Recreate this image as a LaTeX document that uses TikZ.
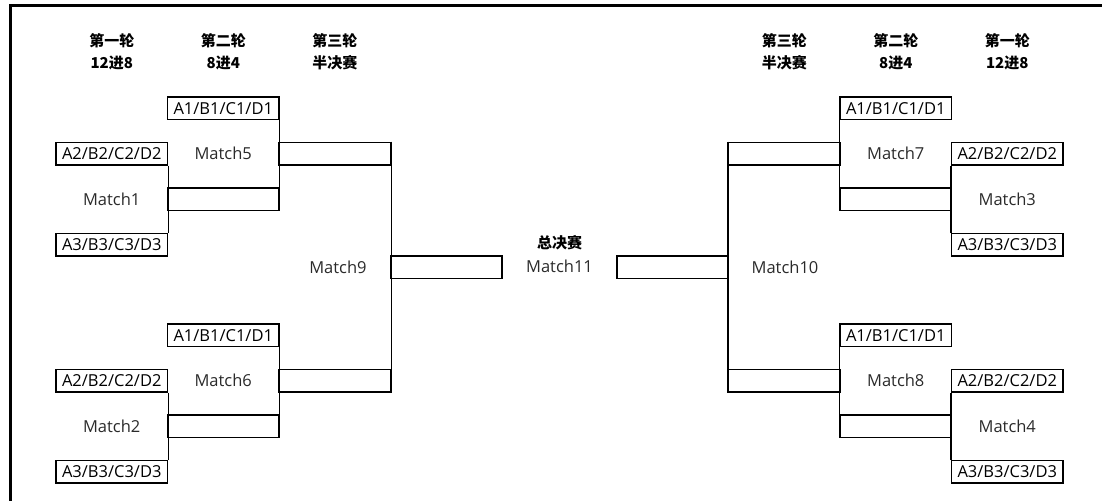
\documentclass[tikz,border=0pt]{standalone}
\usepackage{fontspec}
\setmainfont{Open Sans}
\newfontfamily\cjk{Noto Sans CJK SC}
\definecolor{lbl}{HTML}{2A2A2A}
\tikzset{
  team/.style={draw, line width=1.4pt, minimum width=111.5pt, minimum height=22.7pt, inner sep=0pt, font=\fontsize{16.5}{18}\selectfont},
  slot/.style={draw, line width=1.4pt, minimum width=111.5pt, minimum height=22.7pt, inner sep=0pt},
  mlabel/.style={text=lbl, inner sep=0pt, font=\fontsize{16.5}{18}\selectfont},
  head/.style={align=center, inner sep=0pt, font=\cjk\bfseries\fontsize{15}{22}\selectfont},
  wire/.style={line width=1.4pt},
  frame/.style={line width=3pt}
}
\begin{document}
\begin{tikzpicture}[x=1pt,y=-1pt]
\useasboundingbox (0,0) rectangle (1102,501);
% frame
\coordinate (fa) at (1102,5);
\coordinate (fb) at (10.5,5);
\coordinate (fc) at (10.5,501);
\draw[frame] (fa) -- (fb) -- (fc);
% headers
\node[head] (h1l) at (111.75,52) {第一轮\\12进8};
\node[head] (h2l) at (223.25,52) {第二轮\\8进4};
\node[head] (h3l) at (334.75,52) {第三轮\\半决赛};
\node[head] (h3r) at (784.25,52) {第三轮\\半决赛};
\node[head] (h2r) at (895.75,52) {第二轮\\8进4};
\node[head] (h1r) at (1007.25,52) {第一轮\\12进8};
% ---------- left half ----------
\node[team] (l5a) at (223.25,108.35) {A1/B1/C1/D1};
\node[team] (l1a) at (111.75,153.75) {A2/B2/C2/D2};
\node[slot] (l1o) at (223.25,199.15) {};
\node[team] (l1b) at (111.75,244.55) {A3/B3/C3/D3};
\node[slot] (l5o) at (334.75,153.75) {};
\node[team] (l6a) at (223.25,335.35) {A1/B1/C1/D1};
\node[team] (l2a) at (111.75,380.75) {A2/B2/C2/D2};
\node[slot] (l2o) at (223.25,426.15) {};
\node[team] (l2b) at (111.75,471.55) {A3/B3/C3/D3};
\node[slot] (l6o) at (334.75,380.75) {};
\node[slot] (l9o) at (446.25,267.25) {};
\draw[wire] (l1a.south east) -- (l1b.north east);
\draw[wire] (l5a.south east) -- (l1o.north east);
\draw[wire] (l2a.south east) -- (l2b.north east);
\draw[wire] (l6a.south east) -- (l2o.north east);
\draw[wire] (l5o.north east) -- (l6o.south east);
\node[mlabel] (m1) at (111.75,199.15) {Match1};
\node[mlabel] (m5) at (223.25,153.75) {Match5};
\node[mlabel] (m2) at (111.75,426.15) {Match2};
\node[mlabel] (m6) at (223.25,380.75) {Match6};
\node[mlabel] (m9) at (338,267.25) {Match9};
% ---------- right half ----------
\node[team] (r7a) at (895.75,108.35) {A1/B1/C1/D1};
\node[team] (r3a) at (1007.25,153.75) {A2/B2/C2/D2};
\node[slot] (r3o) at (895.75,199.15) {};
\node[team] (r3b) at (1007.25,244.55) {A3/B3/C3/D3};
\node[slot] (r7o) at (784.25,153.75) {};
\node[team] (r8a) at (895.75,335.35) {A1/B1/C1/D1};
\node[team] (r4a) at (1007.25,380.75) {A2/B2/C2/D2};
\node[slot] (r4o) at (895.75,426.15) {};
\node[team] (r4b) at (1007.25,471.55) {A3/B3/C3/D3};
\node[slot] (r8o) at (784.25,380.75) {};
\node[slot] (r10o) at (672.75,267.25) {};
\draw[wire] (r3a.south west) -- (r3b.north west);
\draw[wire] (r7a.south west) -- (r3o.north west);
\draw[wire] (r4a.south west) -- (r4b.north west);
\draw[wire] (r8a.south west) -- (r4o.north west);
\draw[wire] (r7o.north west) -- (r8o.south west);
\node[mlabel] (m3) at (1007.25,199.15) {Match3};
\node[mlabel] (m7) at (895.75,153.75) {Match7};
\node[mlabel] (m4) at (1007.25,426.15) {Match4};
\node[mlabel] (m8) at (895.75,380.75) {Match8};
\node[mlabel] (m10) at (785,267.25) {Match10};
% ---------- final ----------
\node[head, font=\cjk\bfseries\fontsize{15}{18}\selectfont] (fin) at (559.5,243) {总决赛};
\node[mlabel] (m11) at (559.5,266) {Match11};
\end{tikzpicture}
\end{document}
